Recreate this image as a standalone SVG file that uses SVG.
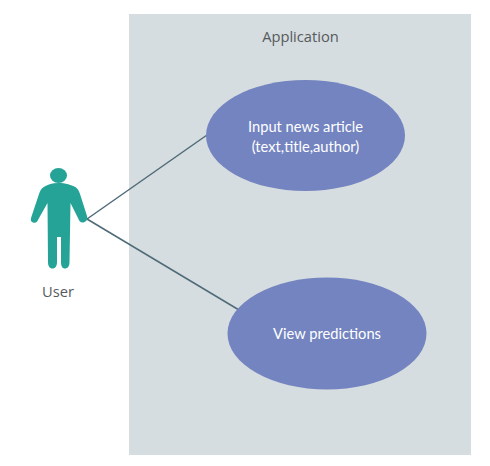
<svg xmlns="http://www.w3.org/2000/svg" width="490" height="466" viewBox="0 0 490 466">
<style>
text{text-anchor:middle}
.d{font-family:"Open Sans","Noto Sans",sans-serif;font-size:14.700px;fill:#555a5c}
.w{font-family:Lato,"Open Sans",sans-serif;font-size:14.700px;fill:#ffffff}
.uc{fill:#7384c0}
.c{stroke:#4f6b78;stroke-width:1.500;fill:none}
</style>
<rect width="490" height="466" fill="#ffffff"/>
<g id="application">
<rect x="129" y="14" width="342" height="441" fill="#d6dde0"/>
<text class="d" x="300.500" y="42">Application</text>
</g>
<g id="connectors">
<line class="c" x1="87" y1="219" x2="207" y2="135"/>
<line class="c" x1="87" y1="219" x2="239" y2="310"/>
</g>
<g id="user">
<ellipse fill="#26a397" cx="58.500" cy="175.500" rx="8.500" ry="7.500"/>
<path fill="#26a397" d="M58.500 183C65 183 72 185 76 187.500C78 189 79 191 80 194L87 216C88 219.500 86.500 221.500 83.500 222.500C80.500 223 79 221 78 218L70.500 203L69.500 262C69.500 266.500 67.500 268.500 65 268.500C62.500 268.500 61 266.500 61 262L61 237L57 237L57 262C57 266.500 55 268.500 52.500 268.500C50 268.500 48 266.500 48 262L47.500 203L38.500 219C37.500 222 35.500 223.500 33 222.500C30.500 221.500 30.500 219.500 31.500 216.500L39 194C40 191 41 189 43 187.500C46.500 185 52 183 58.500 183Z"/>
<text class="d" x="58" y="297">User</text>
</g>
<g id="input-news-article">
<ellipse class="uc" cx="305.500" cy="135.500" rx="99.500" ry="55.500"/>
<text class="w" x="305.500" y="132">Input news article</text>
<text class="w" x="305.500" y="152">(text,title,author)</text>
</g>
<g id="view-predictions">
<ellipse class="uc" cx="327" cy="333.500" rx="99.500" ry="56"/>
<text class="w" x="327" y="339">View predictions</text>
</g>
</svg>
